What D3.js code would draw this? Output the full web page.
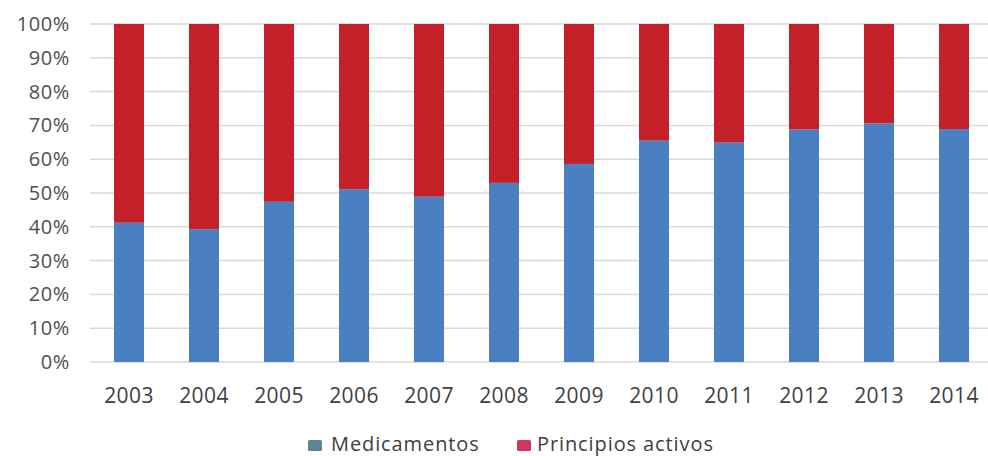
<!DOCTYPE html>
<html><head><meta charset="utf-8">
<script src="https://cdn.jsdelivr.net/npm/d3@7"></script>
<style>body{margin:0;background:#fff}svg{display:block}</style>
</head><body>
<svg id="c" width="988" height="456"></svg>
<script>
const years = ["2003","2004","2005","2006","2007","2008","2009","2010","2011","2012","2013","2014"];
const medicamentos = [41.2,39.3,47.4,51.1,48.9,53.0,58.6,65.5,64.9,68.8,70.6,68.9];
const principios = medicamentos.map(v => 100 - v);
const yTicks = [0,10,20,30,40,50,60,70,80,90,100];
const seriesNames = ["Medicamentos","Principios activos"];
const barColors = ["#4a7fc1","#c4202a"];
const legendColors = ["#5a8594","#cf3660"];

const svg = d3.select("#c");
const x = d3.scaleBand().domain(years).range([91.5,991.5]).paddingInner(0.6).paddingOuter(0.3);
const y = d3.scaleLinear().domain([0,100]).range([362,24]);

// gridlines
svg.append("g").selectAll("line").data(yTicks).join("line")
  .attr("x1",90).attr("x2",988).attr("y1",d=>y(d)).attr("y2",d=>y(d))
  .attr("stroke","#dadada").attr("stroke-width",1.5);

const rows = years.map((yr,i)=>({year:yr, Medicamentos:medicamentos[i], "Principios activos":principios[i]}));
const stack = d3.stack().keys(seriesNames)(rows);
svg.append("g").selectAll("g").data(stack).join("g")
  .attr("fill",(d,i)=>barColors[i])
  .selectAll("rect").data(d=>d).join("rect")
  .attr("x",d=>x(d.data.year)).attr("width",x.bandwidth())
  .attr("y",d=>y(d[1])).attr("height",d=>y(d[0])-y(d[1]));

// y axis
const ya = svg.append("g").attr("transform","translate(70,0)")
  .call(d3.axisLeft(y).tickValues(yTicks).tickFormat(d=>d+"%").tickSize(0).tickPadding(0));
ya.select(".domain").remove();
ya.selectAll("text").attr("font-family","Open Sans").attr("font-size",20).attr("fill","#505050").attr("letter-spacing","0.6");

// x axis
const xa = svg.append("g").attr("transform","translate(0,362)")
  .call(d3.axisBottom(x).tickSize(0).tickPadding(26));
xa.select(".domain").remove();
xa.selectAll("text").attr("font-family","Open Sans").attr("font-size",21).attr("fill","#404040").attr("letter-spacing","0.4");

// legend
const leg = [{name:seriesNames[0],mx:308,tx:331},{name:seriesNames[1],mx:517,tx:537}];
const lg = svg.append("g");
leg.forEach((d,i)=>{
  lg.append("rect").attr("x",d.mx).attr("y",440).attr("width",14).attr("height",11).attr("rx",1.5).attr("fill",legendColors[i]);
  lg.append("text").attr("x",d.tx).attr("y",451).attr("font-family","Open Sans").attr("font-size",20)
    .attr("fill","#404040").attr("letter-spacing","0.9").text(d.name);
});
</script>
</body></html>
